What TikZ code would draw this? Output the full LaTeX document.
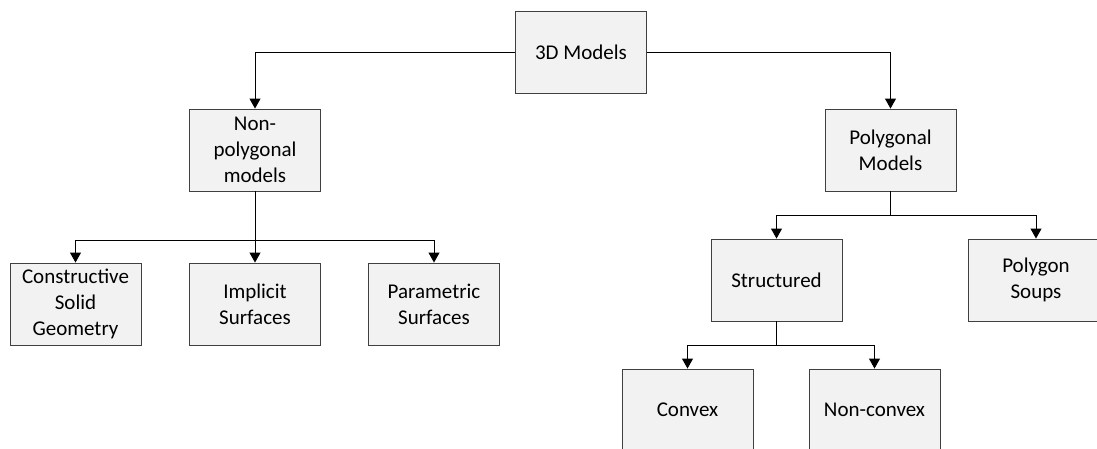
\documentclass[tikz,border=0pt]{standalone}
\usepackage{fontspec}
\setmainfont{Carlito}
\usetikzlibrary{arrows.meta}
\definecolor{boxfill}{HTML}{F2F2F2}
\definecolor{boxline}{HTML}{404040}
\begin{document}
\begin{tikzpicture}[x=1pt,y=-1pt,
  box/.style={draw=boxline, fill=boxfill, line width=0.9pt,
    minimum width=131pt, minimum height=82pt, inner sep=0pt,
    align=center, font=\fontsize{21}{26}\selectfont},
  link/.style={line width=1pt, -{Triangle[width=11pt,length=10pt]}}]
  \useasboundingbox (0,0) rectangle (1097,449);
  \clip (0,0) rectangle (1097,449);

  % taxonomy boxes
  \node[box] (top)       at (581,52.5)  {3D Models};
  \node[box] (nonpoly)   at (255,150)   {Non-\\polygonal\\models};
  \node[box] (poly)      at (890.5,150) {Polygonal\\Models};
  \node[box] (csg)       at (75.5,304)  {Constructive\\Solid\\Geometry};
  \node[box] (impl)      at (255,304)   {Implicit\\Surfaces};
  \node[box] (param)     at (434,304)   {Parametric\\Surfaces};
  \node[box] (struct)    at (776.5,280) {Structured};
  \node[box, minimum width=136pt] (soups) at (1036,280) {Polygon\\Soups};
  \node[box] (convex)    at (687.5,410) {Convex};
  \node[box] (nonconvex) at (874.5,410) {Non-convex};

  % elbow connectors
  \draw[link] (top.west) -| (nonpoly.north);
  \draw[link] (top.east) -| (poly.north);

  \draw[link] (nonpoly.south) -- ++(0,49) -| (csg.north);
  \draw[link] (nonpoly.south) -- (impl.north);
  \draw[link] (nonpoly.south) -- ++(0,49) -| (param.north);

  \draw[link] (poly.south) -- ++(0,24) -| (struct.north);
  \draw[link] (poly.south) -- ++(0,24) -| (soups.north);

  \draw[link] (struct.south) -- ++(0,24) -| (convex.north);
  \draw[link] (struct.south) -- ++(0,24) -| (nonconvex.north);
\end{tikzpicture}
\end{document}
